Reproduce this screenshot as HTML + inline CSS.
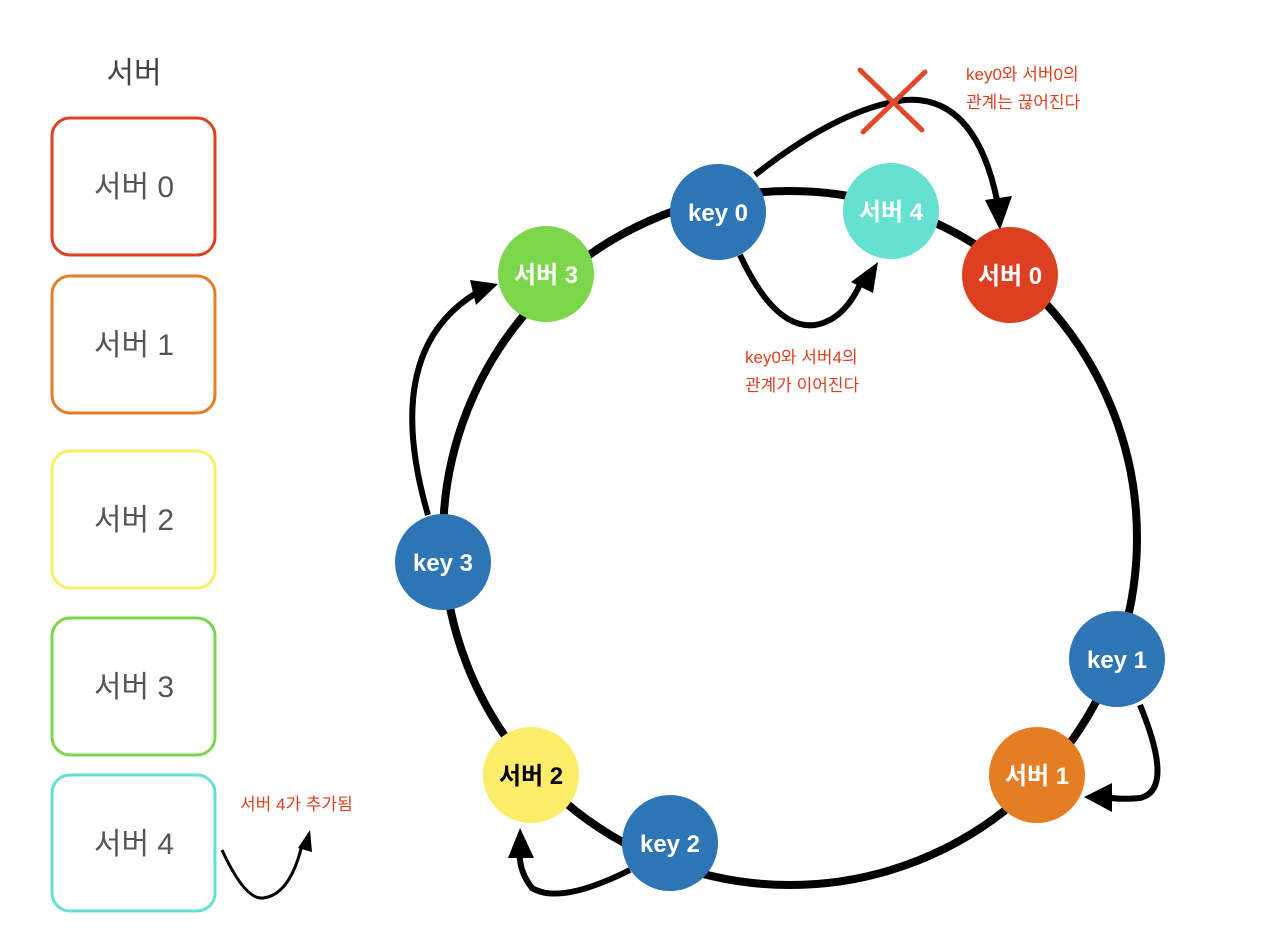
<!DOCTYPE html>
<html><head><meta charset="utf-8"><style>
body{margin:0;background:#fff;}
svg text{font-family:"Liberation Sans","Noto Sans CJK KR",sans-serif;}
</style></head><body>
<svg width="1270" height="936" viewBox="0 0 1270 936" xmlns="http://www.w3.org/2000/svg">
<defs>
<marker id="ah" markerWidth="8" markerHeight="8" refX="5" refY="4" orient="auto" markerUnits="userSpaceOnUse" viewBox="0 0 8 8"><path d="M0,0 L8,4 L0,8 Z" fill="#000"/></marker>
</defs>
<text x="134" y="83" font-size="30" fill="#444" text-anchor="middle">서버</text>
<g fill="#fff" stroke-width="3">
<rect x="52" y="118" width="163" height="137" rx="18" stroke="#dd4020"/>
<rect x="52" y="276" width="163" height="137" rx="18" stroke="#e57d25"/>
<rect x="52" y="451" width="163" height="137" rx="18" stroke="#fbec6a"/>
<rect x="52" y="618" width="163" height="137" rx="18" stroke="#7cd64c"/>
<rect x="52" y="775" width="163" height="136" rx="18" stroke="#66e0d0"/>
</g>
<g font-size="30" fill="#555" text-anchor="middle">
<text x="134" y="197">서버 0</text>
<text x="134" y="355">서버 1</text>
<text x="134" y="530">서버 2</text>
<text x="134" y="697">서버 3</text>
<text x="134" y="854">서버 4</text>
</g>
<text x="240" y="810" font-size="17" fill="#dd4020">서버 4가 추가됨</text>
<path d="M222,850 Q245,900 263,898 Q290,895 302,845" fill="none" stroke="#000" stroke-width="3"/>
<path d="M298,848 L310,830 L312,852 Z" fill="#000"/>
<!-- ring -->
<circle cx="790" cy="538" r="347" fill="none" stroke="#000" stroke-width="8"/>
<!-- arrows -->
<g fill="none" stroke="#000" stroke-width="6">
<path d="M755,175 Q840,108 905,100 Q975,95 997,200"/>
<path d="M740,255 Q775,330 815,325 Q845,320 862,280"/>
<path d="M428,515 Q380,350 478,292"/>
<path d="M630,870 Q560,905 532,888 Q518,870 520,850"/>
<path d="M1140,705 Q1175,790 1140,798 Q1120,800 1105,797"/>
</g>
<g fill="#000">
<path d="M985,200 L1012,196 L1000,230 Z"/>
<path d="M851,282 L878,262 L873,293 Z"/>
<path d="M470,280 L498,284 L476,305 Z"/>
<path d="M508,858 L520,828 L534,858 Z"/>
<path d="M1112,783 L1084,797 L1112,812 Z"/>
</g>
<!-- X -->
<g stroke="#e04a2a" stroke-width="5" stroke-linecap="round">
<line x1="860" y1="70" x2="922" y2="130"/>
<line x1="925" y1="72" x2="863" y2="132"/>
</g>
<text x="966" y="80" font-size="17" fill="#dd4020">key0와 서버0의</text>
<text x="966" y="108" font-size="17" fill="#dd4020">관계는 끊어진다</text>
<text x="745" y="363" font-size="17" fill="#dd4020">key0와 서버4의</text>
<text x="745" y="391" font-size="17" fill="#dd4020">관계가 이어진다</text>
<!-- nodes -->
<g font-size="24" font-weight="bold" text-anchor="middle">
<circle cx="718" cy="212" r="48" fill="#2e75b6"/><text x="718" y="221" fill="#fff">key 0</text>
<circle cx="891" cy="211" r="48" fill="#66e0d0"/><text x="891" y="220" fill="#fff">서버 4</text>
<circle cx="1010" cy="275" r="48" fill="#dd4020"/><text x="1010" y="284" fill="#fff">서버 0</text>
<circle cx="546" cy="274" r="48" fill="#7cd64c"/><text x="546" y="283" fill="#fff">서버 3</text>
<circle cx="443" cy="562" r="48" fill="#2e75b6"/><text x="443" y="571" fill="#fff">key 3</text>
<circle cx="1117" cy="659" r="48" fill="#2e75b6"/><text x="1117" y="668" fill="#fff">key 1</text>
<circle cx="1037" cy="775" r="48" fill="#e57d25"/><text x="1037" y="784" fill="#fff">서버 1</text>
<circle cx="531" cy="775" r="48" fill="#fbec6a"/><text x="531" y="784" fill="#000">서버 2</text>
<circle cx="670" cy="843" r="48" fill="#2e75b6"/><text x="670" y="852" fill="#fff">key 2</text>
</g>
</svg>
</body></html>
